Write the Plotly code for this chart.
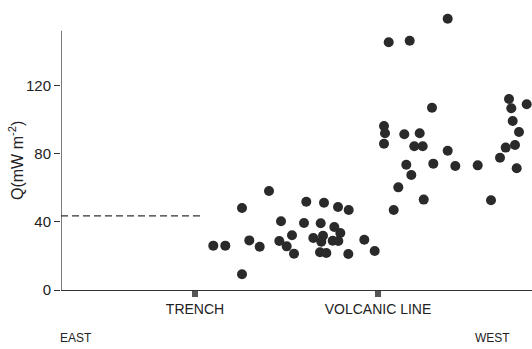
import plotly.graph_objects as go

# distance along profile (arbitrary units, east -> west) and heat flow Q (mW m^-2)
dist = [152.3, 164.3, 181, 181, 188.3, 198.7, 208, 220, 218.3, 225.7, 231, 233,
        245.3, 243, 252.3, 259.7, 262, 260.3, 259, 265.3, 263, 273.3, 279.3, 271.7,
        277.3, 277, 287.7, 287.3, 303.3, 313.7, 332.7, 337.3,
        386.7, 327.7, 348.7, 371, 323, 324, 323, 343.3, 358.7, 353.3, 361.7, 386.7,
        345.3, 350.3, 372.3, 394.3, 416.7, 362.7, 430,
        448, 450.3, 465.7, 451.7, 458, 444.7, 454, 439, 455.7]
heat_flow = [26.0, 26.0, 48.1, 9.2, 29.1, 25.4, 58.1, 40.3, 28.7, 25.6, 32.1, 21.3,
             51.8, 39.3, 30.5, 39.1, 31.8, 28.3, 22.1, 21.7, 51.2, 36.9, 33.4, 28.9,
             28.7, 48.7, 46.9, 21.1, 29.5, 22.9, 46.9, 60.2,
             159.1, 145.3, 146.2, 106.9, 96.2, 91.9, 85.8, 91.3, 91.9, 84.3, 84.3, 81.7,
             73.5, 67.4, 74.1, 72.7, 73.1, 53.0, 52.6,
             112.0, 106.6, 108.9, 99.1, 92.7, 83.5, 85.0, 77.6, 71.4]

# reference (dashed) heat-flow level on the east side
ref_x = [0, 139]
ref_y = [43.5, 43.5]

x_tick_vals = [134, 317]
x_tick_text = ["TRENCH", "VOLCANIC LINE"]
y_tick_vals = [0, 40, 80, 120]
y_axis_top = 152

FONT = "Liberation Sans, Arial, sans-serif"
AX = "#333333"

fig = go.Figure()
fig.add_trace(go.Scatter(x=ref_x, y=ref_y, mode="lines",
                         line=dict(color=AX, width=1.2, dash="7px,4px"),
                         hoverinfo="skip"))
fig.add_trace(go.Scatter(x=dist, y=heat_flow, mode="markers", cliponaxis=False,
                         marker=dict(size=10, color="#2a2a2a")))

# y axis line only up to the top of the scale
fig.add_shape(type="line", xref="x", yref="y", x0=0, x1=0, y0=0, y1=y_axis_top,
              line=dict(color=AX, width=1.3))

fig.update_layout(
    width=532, height=349,
    margin=dict(l=61, r=0, t=10, b=59),
    paper_bgcolor="white", plot_bgcolor="white",
    showlegend=False,
    font=dict(family=FONT, color="#222", size=14),
    xaxis=dict(range=[0, 471], showgrid=False, zeroline=False,
               showline=True, linecolor=AX, linewidth=1.3,
               tickvals=x_tick_vals, ticktext=x_tick_text,
               ticks="outside", ticklen=6, tickwidth=6, tickcolor="#555",
               tickfont=dict(size=14, family=FONT, color="#222")),
    yaxis=dict(range=[0, 164.2], showgrid=False, zeroline=False,
               showline=False,
               tickvals=y_tick_vals, ticks="outside", ticklen=6, tickwidth=1.3,
               tickcolor=AX, tickfont=dict(size=15, family=FONT, color="#222")),
    annotations=[
        dict(text="Q(mW m<sup>-2</sup>)", textangle=-90, xref="paper", yref="paper",
             x=-45 / 471, y=(290 - 161) / 280, xanchor="center", yanchor="middle",
             showarrow=False, font=dict(size=16, family=FONT, color="#222")),
        dict(text="EAST", xref="paper", yref="paper", x=-3 / 471, y=-48 / 280,
             xanchor="left", yanchor="middle", showarrow=False,
             font=dict(size=12, family=FONT, color="#222")),
        dict(text="WEST", xref="paper", yref="paper", x=412 / 471, y=-48 / 280,
             xanchor="left", yanchor="middle", showarrow=False,
             font=dict(size=12, family=FONT, color="#222")),
    ],
)

fig.write_html("out.html")
